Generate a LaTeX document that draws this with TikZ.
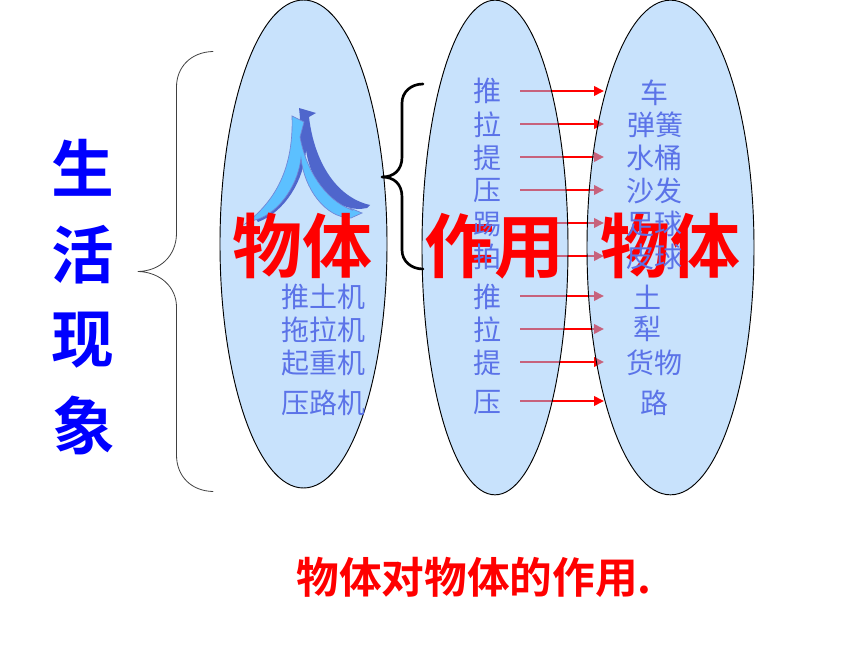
\documentclass[tikz,border=0pt]{standalone}
\usepackage{fontspec}
\setmainfont{Noto Sans CJK SC}
\newfontfamily\cjkbold{Noto Sans CJK SC Bold}
\usetikzlibrary{arrows.meta,shapes.geometric}
\definecolor{ellfill}{HTML}{91C5F9}
\definecolor{txtblue}{HTML}{5B73E8}
\definecolor{arrdark}{HTML}{4F66CC}
\definecolor{arrlight}{HTML}{5CC0FF}
\tikzset{
 ell/.style={ellipse,draw=black,line width=0.7pt,fill=ellfill,fill opacity=0.5,draw opacity=1,inner sep=0pt},
 small/.style={text=txtblue,font=\fontsize{21}{21}\selectfont,inner sep=0pt,anchor=center},
 bigred/.style={text=red,font=\cjkbold\fontsize{52.5}{54}\selectfont,inner sep=0pt},
 vert/.style={text=blue,font=\cjkbold\fontsize{47}{48}\selectfont,inner sep=0pt},
 force/.style={draw=red,line width=2pt,-{Stealth[length=7.5pt,width=7pt,inset=0pt]}},
 brace/.style={draw=black,line cap=round,line join=round},
}
\begin{document}
\begin{tikzpicture}[x=0.75pt,y=-0.75pt]
\useasboundingbox (0,0) rectangle (860,645);
% arrows (below the translucent ellipses)
\foreach \n/\y in {1/91,2/124,3/157,4/190,5/223,6/256,7/296,8/329,9/362,10/401}{
  \coordinate (s\n) at (520,\y);
  \coordinate (e\n) at (604,\y);
  \draw[force] (s\n) -- (e\n);
}
% ellipses
\node[ell,minimum width=125.25pt,minimum height=366pt] (eA) at (303.5,244) {};
\node[ell,minimum width=109.5pt,minimum height=371pt] (eB) at (495,247.5) {};
\node[ell,minimum width=125.25pt,minimum height=371pt] (eC) at (670.5,247.5) {};
% braces
\draw[brace,line width=0.6pt,draw=black!75] (213,51.5) .. controls (191,52) and (176.5,67) .. (176.5,87)
  -- (176.5,233) .. controls (176.5,256) and (160,271) .. (138,271.5)
  .. controls (160,272) and (176.5,287) .. (176.5,307)
  -- (176.5,455) .. controls (176.5,476) and (191,491) .. (213,491.5);
\draw[brace,line width=2pt] (423,84) .. controls (411,84) and (402,92) .. (402,103)
  -- (402,157) .. controls (402,170) and (394,177) .. (382,177)
  .. controls (394,177) and (402,184) .. (402,197)
  -- (402,250) .. controls (402,261) and (411,269) .. (423,269);
% block arrow
\fill[arrdark] (299,108) -- (316,113) -- (309,117)
  .. controls (314,160) and (335,197) .. (370,205) -- (367,208)
  .. controls (340,214) and (312,190) .. (306,150)
  .. controls (304,180) and (285,212) .. (258,222) -- (255,218)
  .. controls (280,205) and (298,170) .. (300,118) -- cycle;
\filldraw[fill=arrlight,draw=arrdark!80,line width=0.5pt] (292,116) -- (304,122) -- (300,137)
  .. controls (306,170) and (325,200) .. (352,210) -- (350,208) -- (362,213) -- (351,218)
  .. controls (325,218) and (304,188) .. (301,158)
  .. controls (297,190) and (275,215) .. (255,220) -- (245,224)
  .. controls (270,205) and (294,175) .. (292,116) -- cycle;
% red headings
\node[bigred] (tA) at (302.5,246) {物体};
\node[bigred] (tB) at (494,246) {作用};
\node[bigred] (tC) at (670,246) {物体};
% left column
\node[small] (a1) at (323,297) {推土机};
\node[small] (a2) at (323,330) {拖拉机};
\node[small] (a3) at (323,363) {起重机};
\node[small] (a4) at (323,403) {压路机};
% middle column
\foreach \n/\y/\t in {1/91/推,2/125/拉,3/158/提,4/191/压,5/224/踢,6/257/拍,7/297/推,8/330/拉,9/363/提,10/403/压}
  \node[small] (b\n) at (487,\y) {\t};
% right column
\node[small] (c1) at (654,93) {车};
\node[small] (c2) at (655,125) {弹簧};
\node[small] (c3) at (654,158) {水桶};
\node[small] (c4) at (654,191) {沙发};
\node[small] (c5) at (654,224) {足球};
\node[small] (c6) at (654,257) {皮球};
\node[small] (c7) at (647,297) {土};
\node[small] (c8) at (647,329) {犁};
\node[small] (c9) at (654,363) {货物};
\node[small] (c10) at (654,403) {路};
% vertical title
\node[vert] (v1) at (83,168) {生};
\node[vert] (v2) at (83,255) {活};
\node[vert] (v3) at (83,340) {现};
\node[vert] (v4) at (84,425) {象};
% bottom line
\node[text=red,font=\cjkbold\fontsize{32}{34}\selectfont,inner sep=0pt] (foot) at (474,577) {物体对物体的作用.};
\end{tikzpicture}
\end{document}
